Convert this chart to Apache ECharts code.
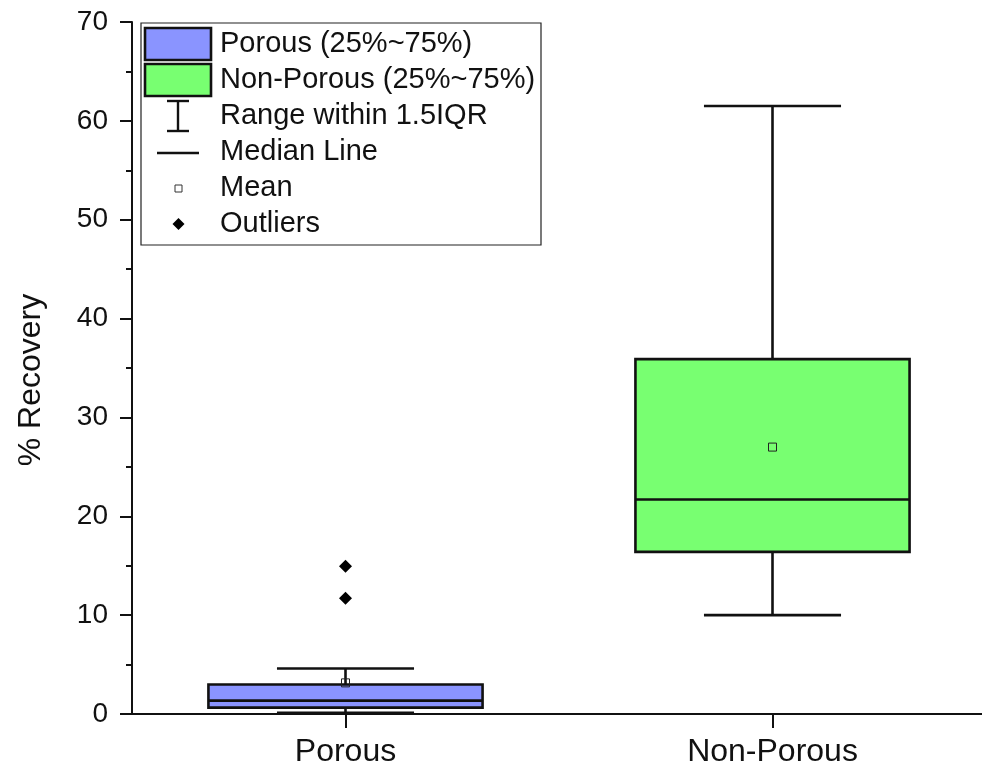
<!DOCTYPE html>
<html>
<head>
<meta charset="utf-8">
<script src="https://cdn.jsdelivr.net/npm/echarts@6/dist/echarts.min.js"></script>
<style>
  html, body { margin: 0; padding: 0; background: #fff; }
  #chart { width: 982px; height: 767px; }
</style>
</head>
<body>
<div id="chart"></div>
<script>
// Box statistics per group
const categories = ['Porous', 'Non-Porous'];
const whiskerLow = [0.13, 10.0];
const q1 = [0.64, 16.4];
const median = [1.35, 21.7];
const q3 = [2.98, 35.9];
const whiskerHigh = [4.6, 61.5];
const means = [3.15, 27.0];
const outlierGroup = ['Porous', 'Porous'];
const outlierValues = [14.95, 11.7];

const boxColors = ['#8a94ff', '#78ff71'];
const legendLabels = ['Porous (25%~75%)', 'Non-Porous (25%~75%)', 'Range within 1.5IQR', 'Median Line', 'Mean', 'Outliers'];

const FONT = 'Liberation Sans, Arial, sans-serif';

const boxData = categories.map((c, i) => [i, whiskerLow[i], q1[i], median[i], q3[i], whiskerHigh[i]]);

function renderBox(params, api) {
  const idx = api.value(0);
  const bandW = api.size([1, 0])[0];
  const half = bandW * 0.321;
  const capHalf = half * 0.5;
  const pLow = api.coord([idx, api.value(1)]);
  const pQ1 = api.coord([idx, api.value(2)]);
  const pMed = api.coord([idx, api.value(3)]);
  const pQ3 = api.coord([idx, api.value(4)]);
  const pHigh = api.coord([idx, api.value(5)]);
  const x = pMed[0];
  const lineStyle = { stroke: '#111', lineWidth: 2.6, fill: null };
  return {
    type: 'group',
    children: [
      { type: 'line', shape: { x1: x, y1: pHigh[1], x2: x, y2: pQ3[1] }, style: lineStyle },
      { type: 'line', shape: { x1: x, y1: pQ1[1], x2: x, y2: pLow[1] }, style: lineStyle },
      { type: 'line', shape: { x1: x - capHalf, y1: pHigh[1], x2: x + capHalf, y2: pHigh[1] }, style: lineStyle },
      { type: 'line', shape: { x1: x - capHalf, y1: pLow[1], x2: x + capHalf, y2: pLow[1] }, style: lineStyle },
      { type: 'rect', shape: { x: x - half, y: pQ3[1], width: half * 2, height: pQ1[1] - pQ3[1] },
        style: { fill: boxColors[idx], stroke: '#111', lineWidth: 2.6 } },
      { type: 'line', shape: { x1: x - half, y1: pMed[1], x2: x + half, y2: pMed[1] }, style: lineStyle }
    ]
  };
}

// Legend drawn as graphic elements
const legendX = 141, legendY = 23;
const rowY = [44, 80, 116, 152, 188, 224];
const legendChildren = [
  { type: 'rect', shape: { x: legendX, y: legendY, width: 400, height: 222 },
    style: { fill: '#fff', stroke: '#222', lineWidth: 1.2 } },
  { type: 'rect', shape: { x: 145, y: 28, width: 66, height: 32 }, style: { fill: boxColors[0], stroke: '#111', lineWidth: 2.6 } },
  { type: 'rect', shape: { x: 145, y: 64, width: 66, height: 32 }, style: { fill: boxColors[1], stroke: '#111', lineWidth: 2.6 } },
  { type: 'line', shape: { x1: 178, y1: 101, x2: 178, y2: 131 }, style: { stroke: '#111', lineWidth: 2.4 } },
  { type: 'line', shape: { x1: 167, y1: 101, x2: 189, y2: 101 }, style: { stroke: '#111', lineWidth: 2.4 } },
  { type: 'line', shape: { x1: 167, y1: 131, x2: 189, y2: 131 }, style: { stroke: '#111', lineWidth: 2.4 } },
  { type: 'line', shape: { x1: 157, y1: 153, x2: 199, y2: 153 }, style: { stroke: '#111', lineWidth: 2.4 } },
  { type: 'rect', shape: { x: 175, y: 185, width: 7, height: 7 }, style: { fill: '#fff', stroke: '#333', lineWidth: 1 } },
  { type: 'polygon', shape: { points: [[178.5, 218], [184.5, 224], [178.5, 230], [172.5, 224]] }, style: { fill: '#000' } }
];
legendLabels.forEach((t, i) => {
  legendChildren.push({
    type: 'text', x: 220, y: rowY[i],
    style: { text: t, font: '29px ' + FONT, fill: '#111', verticalAlign: 'middle', align: 'left' }
  });
});

const chart = echarts.init(document.getElementById('chart'));
chart.setOption({
  animation: false,
  backgroundColor: '#fff',
  grid: { left: 132, width: 854, top: 22, bottom: 53, containLabel: false, outerBoundsMode: 'none' },
  xAxis: {
    type: 'category',
    data: categories,
    boundaryGap: true,
    axisLine: { lineStyle: { color: '#111', width: 2 } },
    axisTick: { show: true, alignWithLabel: true, length: 14, lineStyle: { color: '#111', width: 2 } },
    axisLabel: { color: '#111', fontSize: 32, fontFamily: FONT, margin: 22 },
    splitLine: { show: false }
  },
  yAxis: {
    type: 'value',
    min: 0, max: 70, interval: 10,
    name: '% Recovery',
    nameLocation: 'middle',
    nameGap: 85,
    nameRotate: 90,
    nameTextStyle: { color: '#111', fontSize: 32, fontFamily: FONT, padding: [0, 24, 0, 0] },
    axisLine: { show: true, lineStyle: { color: '#111', width: 2 } },
    axisTick: { show: true, inside: false, length: 12, lineStyle: { color: '#111', width: 2 } },
    minorTick: { show: true, splitNumber: 2, length: 6, lineStyle: { color: '#111', width: 2 } },
    axisLabel: { color: '#111', fontSize: 28, fontFamily: FONT, margin: 24 },
    splitLine: { show: false }
  },
  series: [
    {
      type: 'custom',
      name: 'box',
      renderItem: renderBox,
      encode: { x: 0, y: [1, 2, 3, 4, 5] },
      data: boxData,
      z: 2
    },
    {
      type: 'scatter',
      name: 'Mean',
      symbol: 'rect',
      symbolSize: 8,
      itemStyle: { color: 'rgba(0,0,0,0)', borderColor: '#222', borderWidth: 1, opacity: 1 },
      data: categories.map((c, i) => [c, means[i]]),
      z: 5
    },
    {
      type: 'scatter',
      name: 'Outliers',
      symbol: 'diamond',
      symbolSize: [13, 13],
      itemStyle: { color: '#000', opacity: 1 },
      data: outlierGroup.map((c, i) => [c, outlierValues[i]]),
      z: 5
    }
  ],
  graphic: [{ type: 'group', children: legendChildren, z: 100 }]
});
</script>
</body>
</html>
